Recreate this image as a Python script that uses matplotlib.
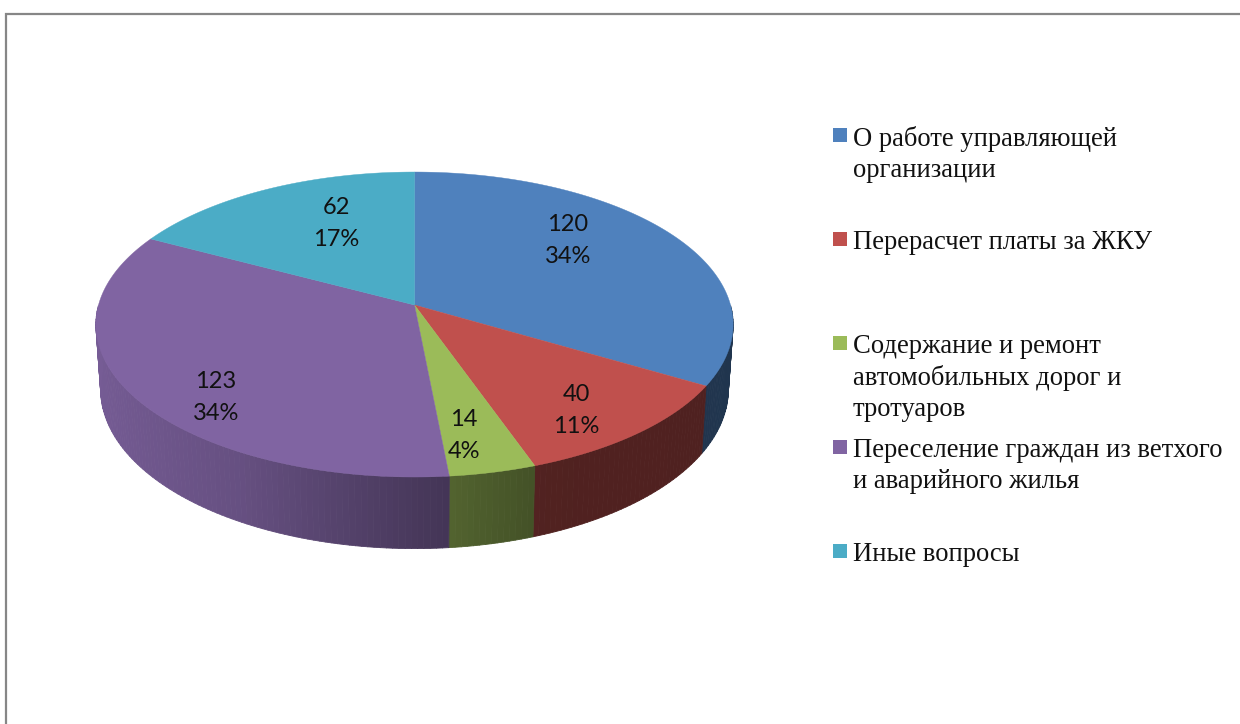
import numpy as np
import matplotlib
matplotlib.use('Agg')
import matplotlib.pyplot as plt
from matplotlib.collections import PolyCollection
from matplotlib.patches import Rectangle

categories = [
    'О работе управляющей\nорганизации',
    'Перерасчет платы за ЖКУ',
    'Содержание и ремонт\nавтомобильных дорог и\nтротуаров',
    'Переселение граждан из ветхого\nи аварийного жилья',
    'Иные вопросы',
]
values = [120, 40, 14, 123, 62]
percents = ['34%', '11%', '4%', '34%', '17%']
colors = ['#4F81BD', '#C0504D', '#9BBB59', '#8064A2', '#4BACC6']

# label centres, px
label_x = [568, 576, 464, 216, 336]
label_y = [240.5, 410.5, 435.5, 397.5, 223.5]
legend_y = [135, 239, 343, 447, 551]

# pie geometry in px, fitted to the tilted look of the reference
cx, cy = 414.5, 305
a, b, k = 316.0, 150.0, 0.128
side_dx, side_dy, side_dyscale = 0.985, 64.0, 1.044

# darkening of the side wall from left to right
shade_u = [-1.0, -0.5, 0.0, 0.37, 1.0]
shade_f = [0.92, 0.80, 0.57, 0.42, 0.41]


def top_rim(theta):
    w = 1 + k * np.cos(theta)
    return a * np.sin(theta) / w, -b * np.cos(theta) / w


def to_top(theta):
    x, y = top_rim(theta)
    return cx + x, cy + y


def to_bottom(theta):
    x, y = top_rim(theta)
    return cx + x * side_dx, cy + side_dy + y * side_dyscale


fig = plt.figure(figsize=(12.4, 7.24), dpi=100)
ax = fig.add_axes([0, 0, 1, 1])
ax.set_xlim(0, 1240)
ax.set_ylim(724, 0)
ax.axis('off')

# chart frame, only left and top are inside the crop
ax.plot([6, 6, 1240], [724, 14, 14], color='#868686', lw=1.6, solid_joinstyle='miter')

edges = np.concatenate([[0], np.cumsum(values)]) / sum(values) * 2 * np.pi

# side wall, front part only
for i, col in enumerate(colors):
    th = np.linspace(edges[i], edges[i + 1], max(int(np.degrees(edges[i + 1] - edges[i])), 2) + 1)
    base = np.array(matplotlib.colors.to_rgb(col))
    quads, fc = [], []
    for t0, t1 in zip(th[:-1], th[1:]):
        if np.cos((t0 + t1) / 2) > 0:
            continue
        x0, y0 = to_top(t0)
        x1, y1 = to_top(t1)
        x2, y2 = to_bottom(t1)
        x3, y3 = to_bottom(t0)
        quads.append([(x0, y0), (x1, y1), (x2, y2), (x3, y3)])
        fc.append(base * np.interp(np.sin((t0 + t1) / 2), shade_u, shade_f))
    if quads:
        ax.add_collection(PolyCollection(quads, facecolors=fc, edgecolors=fc, linewidths=0.6, zorder=2))

# top face
for i, col in enumerate(colors):
    th = np.linspace(edges[i], edges[i + 1], 200)
    x, y = to_top(th)
    ax.fill(np.r_[cx, x], np.r_[cy, y], color=col, lw=0.3, zorder=3)

for i in range(len(values)):
    ax.text(label_x[i], label_y[i], '%d\n%s' % (values[i], percents[i]), ha='center', va='center',
            fontsize=17, family='Lato', color='#111111', linespacing=1.62, zorder=4)

# legend
for i, cat in enumerate(categories):
    ax.add_patch(Rectangle((833, legend_y[i] - 7), 14, 14, color=colors[i], lw=0, zorder=4))
    ax.text(853, legend_y[i] - 9, cat, ha='left', va='top', fontsize=19.15, family='Liberation Serif',
            color='#111111', linespacing=1.32, zorder=4)

fig.savefig('out.png', dpi=100)
